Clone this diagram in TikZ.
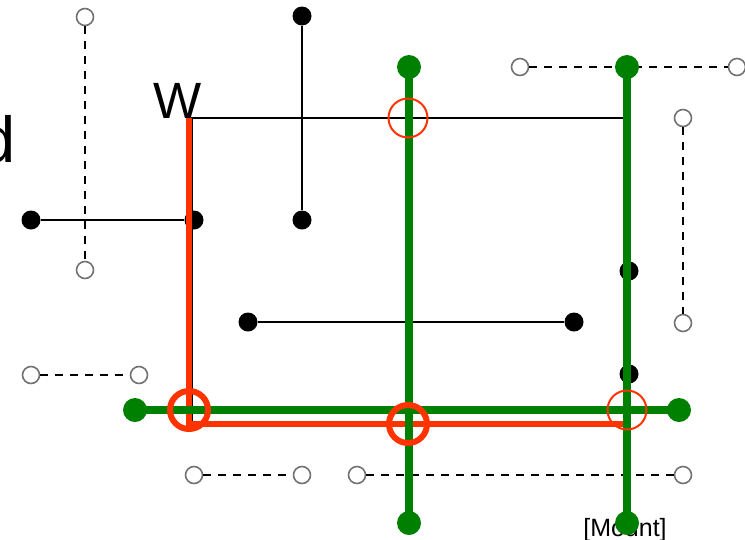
\documentclass[tikz,border=0pt]{standalone}
\usepackage{fontspec}
\setmainfont{Liberation Sans}
\definecolor{routegreen}{RGB}{0,128,0}
\definecolor{routered}{RGB}{255,51,0}
\begin{document}
\begin{tikzpicture}[x=1pt,y=-1pt,
  opendot/.style={circle,draw=black!55,line width=1.6pt,fill=white,minimum size=17pt,inner sep=0pt},
  blackdot/.style={circle,fill=black,minimum size=19pt,inner sep=0pt},
  greendot/.style={circle,fill=routegreen,minimum size=24pt,inner sep=0pt},
  dashlink/.style={line width=2.6pt,dash pattern=on 8pt off 7pt},
  thinlink/.style={line width=2.2pt},
  greenlink/.style={routegreen,line width=8.5pt},
  redlink/.style={routered,line width=6pt},
  thickring/.style={circle,draw=routered,line width=6pt,minimum size=38pt,inner sep=0pt},
  thinring/.style={circle,draw=routered,line width=2pt,minimum size=39pt,inner sep=0pt}]
\useasboundingbox (0,0) rectangle (745,539);

% labels
\node[anchor=base east,inner sep=0pt,font=\fontsize{65}{70}\selectfont] (dlabel) at (16,162) {d};
\node[anchor=base,inner sep=0pt,font=\fontsize{51}{60}\selectfont] (wlabel) at (178,118) {W};
\node[anchor=base,inner sep=0pt,font=\fontsize{25}{30}\selectfont] (mount) at (625,536) {[Mount]};

% dashed links between open terminals
\node[opendot] (o1) at (85,17) {};
\node[opendot] (o2) at (85,270) {};
\node[opendot] (o3) at (520,67) {};
\node[opendot] (o4) at (737,67) {};
\node[opendot] (o5) at (683,118) {};
\node[opendot] (o6) at (683,323) {};
\node[opendot] (o7) at (31,375) {};
\node[opendot] (o8) at (139,375) {};
\node[opendot] (o9) at (194,475) {};
\node[opendot] (o10) at (302,475) {};
\node[opendot] (o11) at (357,475) {};
\node[opendot] (o12) at (683,475) {};
\draw[dashlink] (o1) -- (o2);
\draw[dashlink] (o3) -- (o4);
\draw[dashlink] (o5) -- (o6);
\draw[dashlink] (o7) -- (o8);
\draw[dashlink] (o9) -- (o10);
\draw[dashlink] (o11) -- (o12);

% solid links between filled terminals
\node[blackdot] (b1) at (302,16) {};
\node[blackdot] (b2) at (302,220) {};
\node[blackdot] (b3) at (31,220) {};
\node[blackdot] (b4) at (194,220) {};
\node[blackdot] (b5) at (248,322) {};
\node[blackdot] (b6) at (574,322) {};
\node[blackdot] (b7) at (629,271) {};
\node[blackdot] (b8) at (629,374) {};
\draw[thinlink] (b1) -- (b2);
\draw[thinlink] (b3) -- (b4);
\draw[thinlink] (b5) -- (b6);

% net W loop
\coordinate (wc) at (192,118);
\coordinate (ne) at (627,118);
\coordinate (se) at (627,424);
\coordinate (sw) at (192,424);
\draw[thinlink] (se) -- (ne) -- (wc) -- (sw) -- (se);

% routed path in red
\coordinate (r1) at (189,118);
\coordinate (r2) at (189,424);
\coordinate (r3) at (624,424);
\draw[redlink] (r1) -- (r2) -- (r3);

% green tracks
\node[greendot] (g1) at (409,67) {};
\node[greendot] (g2) at (409,523) {};
\node[greendot] (g3) at (627,67) {};
\node[greendot] (g4) at (627,523) {};
\node[greendot] (g5) at (135,410) {};
\node[greendot] (g6) at (679,410) {};
\draw[greenlink] (g1.center) -- (g2.center);
\draw[greenlink] (g3.center) -- (g4.center);
\draw[greenlink] (g5.center) -- (g6.center);

% crossing markers
\node[thickring] (c1) at (189,410) {};
\node[thickring] (c2) at (408,424) {};
\node[thinring] (c3) at (408,118) {};
\node[thinring] (c4) at (627,410) {};
\end{tikzpicture}
\end{document}
